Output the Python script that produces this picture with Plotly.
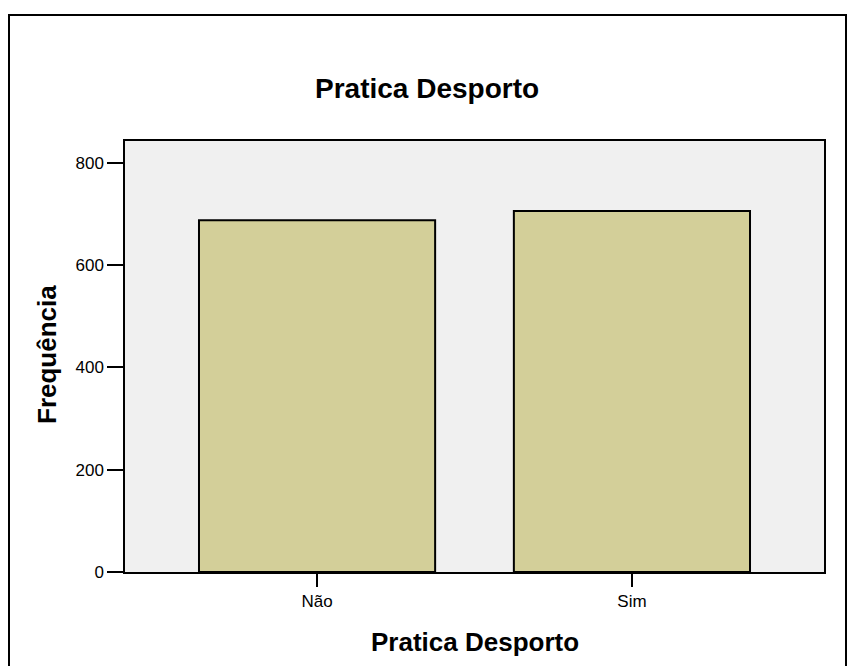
import plotly.graph_objects as go

categories = ["Não", "Sim"]
counts = [688, 706]
y_ticks = [0, 200, 400, 600, 800]

# The page body has an 8px margin, so figure coordinates = page coordinates - 8
OFF = 8
W, H = 855 - OFF, 666 - OFF
L, R, T, B = 125 - OFF, 31, 141 - OFF, 94
pw, ph = W - L - R, H - T - B

fig = go.Figure(go.Bar(
    x=categories, y=counts, width=0.75,
    marker=dict(color="#D3CF99", line=dict(color="black", width=2)),
))

font = "Liberation Sans, Arial, sans-serif"

def px_x(p):
    return (p - OFF - L) / pw

def px_y(p):
    return (H - B - (p - OFF)) / ph

fig.update_layout(
    width=W, height=H,
    margin=dict(l=L, r=R, t=T, b=B),
    paper_bgcolor="white", plot_bgcolor="#F0F0F0",
    showlegend=False,
    font=dict(family=font, color="black", size=17),
    xaxis=dict(range=[-0.61, 1.61], showgrid=False, ticks="outside", ticklen=13,
               tickwidth=2, tickcolor="black", showline=True, linecolor="black",
               linewidth=1.5, mirror=True, tickfont=dict(size=17)),
    yaxis=dict(range=[0, 843], tickvals=y_ticks, showgrid=False, zeroline=False,
               ticks="outside", ticklen=16, tickwidth=2, tickcolor="black",
               showline=True, linecolor="black", linewidth=1.5, mirror=True,
               tickfont=dict(size=17)),
    shapes=[dict(type="rect", xref="paper", yref="paper",
                 x0=px_x(9), x1=px_x(846), y0=px_y(700), y1=px_y(15),
                 line=dict(color="black", width=2), fillcolor="rgba(0,0,0,0)")],
    annotations=[
        dict(text="<b>Pratica Desporto</b>", xref="paper", yref="paper",
             x=px_x(427), y=px_y(89), showarrow=False, font=dict(size=28),
             xanchor="center", yanchor="middle"),
        dict(text="<b>Pratica Desporto</b>", xref="paper", yref="paper",
             x=px_x(475), y=px_y(642), showarrow=False, font=dict(size=26),
             xanchor="center", yanchor="middle"),
        dict(text="<b>Frequência</b>", xref="paper", yref="paper",
             x=px_x(47), y=px_y(355), showarrow=False, font=dict(size=26),
             textangle=-90, xanchor="center", yanchor="middle"),
    ],
)

fig.write_html("out.html")
